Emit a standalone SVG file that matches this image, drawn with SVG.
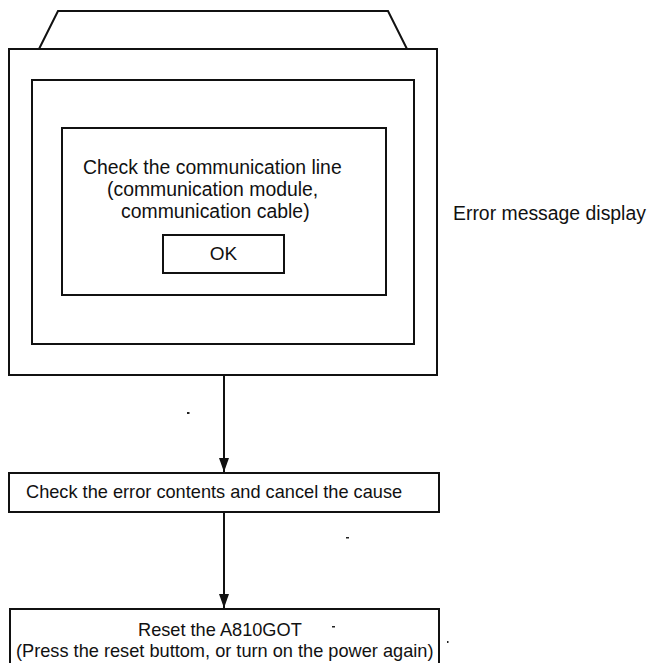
<svg xmlns="http://www.w3.org/2000/svg" width="651" height="663" viewBox="0 0 651 663">
  <style>
    .ln { fill: none; stroke: #111; stroke-width: 2; }
    .t { font-family: "Liberation Sans", Arial, sans-serif; fill: #111; }
    .t19 { font-size: 19.4px; }
    .t18 { font-size: 18.2px; }
    .speck { fill: #222; }
  </style>
  <defs>
    <marker id="arrow" markerWidth="14" markerHeight="10" refX="14" refY="5" orient="auto" markerUnits="userSpaceOnUse" viewBox="0 0 14 10">
      <polygon points="0,0 14,5 0,10" fill="#111"/>
    </marker>
  </defs>
  <rect width="651" height="663" fill="#fff"/>

  <g id="display-unit">
    <polyline class="ln" points="39,49 58,11 388,11 407,49"/>
    <rect class="ln" x="9" y="49" width="428" height="326"/>
    <rect class="ln" x="32" y="80" width="382" height="264"/>
  </g>

  <g id="error-message">
    <rect class="ln" x="62" y="128" width="324" height="167"/>
    <text class="t t19" x="83" y="174">Check the communication line</text>
    <text class="t t19" x="107" y="196">(communication module,</text>
    <text class="t t19" x="121" y="218">communication cable)</text>
  </g>

  <g id="ok-button">
    <rect class="ln" x="163" y="235" width="121" height="38"/>
    <text class="t" x="223.5" y="260" font-size="19" text-anchor="middle">OK</text>
  </g>

  <g id="label-error-display">
    <text class="t t19" x="453" y="220">Error message display</text>
  </g>

  <g id="step-check">
    <rect class="ln" x="9" y="473" width="430" height="39"/>
    <text class="t t18" x="26" y="498">Check the error contents and cancel the cause</text>
  </g>

  <g id="step-reset">
    <rect class="ln" x="10" y="609" width="429" height="60"/>
    <text class="t t18" x="138" y="636">Reset the A810GOT</text>
    <text class="t t18" x="16" y="657">(Press the reset buttom, or turn on the power again)</text>
  </g>

  <g id="connectors">
    <line class="ln" x1="224" y1="375" x2="224" y2="472" marker-end="url(#arrow)"/>
    <line class="ln" x1="224" y1="512" x2="224" y2="608" marker-end="url(#arrow)"/>
  </g>

  <g id="specks">
    <rect class="speck" x="187" y="412" width="2.5" height="2"/>
    <rect class="speck" x="346" y="537" width="3" height="1.5"/>
    <rect class="speck" x="332" y="626" width="3" height="1.5"/>
    <rect class="speck" x="447" y="641" width="1.5" height="2"/>
  </g>
</svg>
